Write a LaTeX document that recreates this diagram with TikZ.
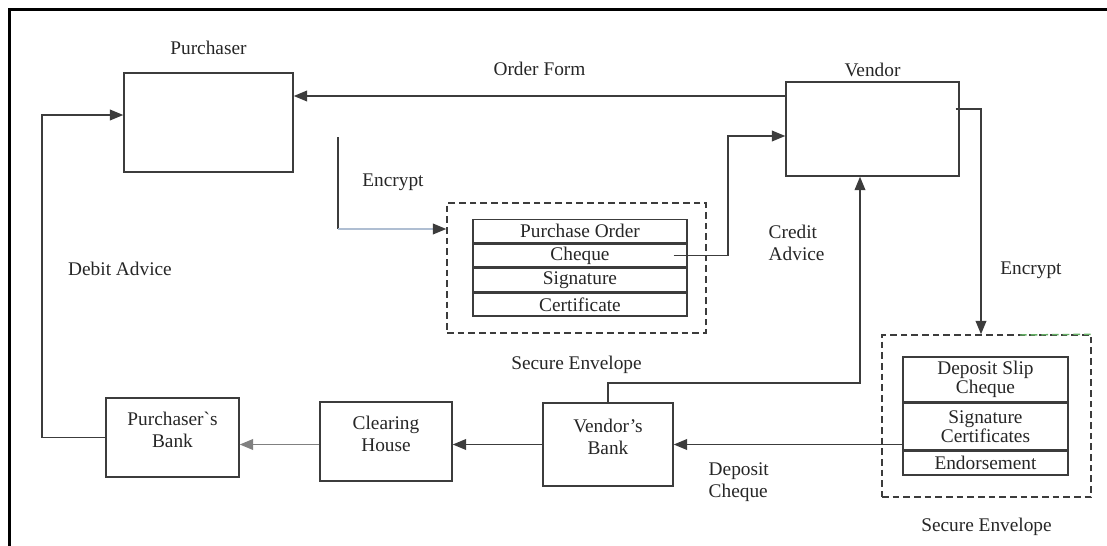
\documentclass[tikz,border=0pt]{standalone}
\usepackage{fontspec}
\setmainfont{Liberation Serif}
\usetikzlibrary{positioning,arrows.meta}
\definecolor{ScanInk}{RGB}{60,60,60}
\definecolor{ScanFaint}{RGB}{175,190,210}
\definecolor{ScanGreen}{RGB}{100,175,100}

\begin{document}
\begin{tikzpicture}[x=0.75pt,y=-0.75pt,>={Triangle[length=10pt,width=8pt]},
  every node/.style={font=\fontsize{14.5}{16.5}\selectfont,text=black!85},
  box/.style={draw=ScanInk,line width=1.1pt,align=center,inner sep=0pt},
  boxtxt/.style={label={[yshift=6pt,align=center]center:#1}},
  row/.style={draw=ScanInk,line width=1.1pt,inner sep=0pt,minimum width=160.5pt,minimum height=17.25pt},
  wrow/.style={draw=ScanInk,line width=1.1pt,inner sep=0pt,minimum width=123.75pt,align=center,font=\fontsize{14.5}{13}\selectfont},
  env/.style={draw=ScanInk,line width=1.1pt,dash pattern=on 5pt off 3pt,inner sep=0pt},
  flow/.style={ScanInk,line width=1.1pt}]
\useasboundingbox (0,0) rectangle (1107,546);
\draw[line width=2.25pt] (9,546) -- (9,9) -- (1107,9);
% parties
\node[box,minimum width=126.75pt,minimum height=74.25pt] (purchaser) at (208.5,122.5) {};
\node[above=10pt of purchaser] (purchaserlbl) {Purchaser};
\node[box,minimum width=129.75pt,minimum height=70.5pt] (vendor) at (872.5,129) {};
\node[above=0pt of vendor] (vendorlbl) {Vendor};
% banks
\node[box,minimum width=99.75pt,minimum height=59.25pt,boxtxt={Purchaser\textasciigrave s\\Bank}] (pbank) at (172.5,437.5) {};
\node[box,minimum width=99pt,minimum height=59.25pt,boxtxt={Clearing\\House}] (chouse) at (386,441.5) {};
\node[box,minimum width=97.5pt,minimum height=62.25pt,boxtxt={Vendor's\\Bank}] (vbank) at (608,444.5) {};
% secure envelope of the purchaser
\node[env,minimum width=194.25pt,minimum height=97.5pt] (env1) at (576.5,268) {};
\node[row] (po) at (580,231) {Purchase Order};
\node[row,below=0pt of po] (cheque) {Cheque};
\node[row,below=0pt of cheque] (sig) {Signature};
\node[row,below=0pt of sig] (cert) {Certificate};
\node[below=13pt of env1] (env1lbl) {Secure Envelope};
% secure envelope of the vendor
\node[env,minimum width=156.75pt,minimum height=121.5pt] (env2) at (986.5,416) {};
\draw[ScanGreen,line width=1.1pt,dash pattern=on 5pt off 3pt] (1020,335) -- (env2.north east);
\node[wrow,minimum height=33.75pt] (slip) at (985.5,379.5) {Deposit Slip\\Cheque};
\node[wrow,minimum height=34.5pt,below=0pt of slip] (sigcert) {Signature\\Certificates};
\node[wrow,minimum height=18pt,below=0pt of sigcert] (endorse) {Endorsement};
\node[below=12pt of env2] (env2lbl) {Secure Envelope};
% flows
\coordinate (ofy) at (540,96);
\draw[->,flow] (vendor.west |- ofy) -- (purchaser.east |- ofy) node[midway,above=11pt] (oflbl) {Order Form};
\coordinate (etop) at (338,137);\coordinate (ebot) at (338,229);
\draw[flow] (etop) -- (ebot);
\draw[-{Triangle[length=10pt,width=8pt,color=ScanInk]},ScanFaint,line width=1.1pt] (ebot) -- (env1.west |- ebot);
\node (enclbl) at (393,182) {Encrypt};
\coordinate (cturn) at (728,136);
\draw[->,flow] ([xshift=-10.5pt]cheque.east) -| (cturn) -- (vendor.west |- cturn);
\node[align=left,anchor=west] (credlbl) at (764,243) {Credit\\Advice};
\coordinate (aturn) at (860,383);
\draw[->,flow] (vbank.north) |- (aturn) -- (aturn |- vendor.south);
\coordinate (vout) at (981,109);
\draw[->,flow] ([xshift=-3pt]vendor.east |- vout) -- (vout) -- (vout |- env2.north);
\node (enc2lbl) at (1031,270) {Encrypt};
\draw[->,flow] (sigcert.west |- vbank.east) -- (vbank.east);
\node[align=left,anchor=west] (deplbl) at (704,482) {Deposit\\Cheque};
\draw[->,flow] (vbank.west) -- (chouse.east |- vbank.west);
\draw[->,flow,gray] (chouse.west |- vbank.west) -- (pbank.east |- vbank.west);
\coordinate (dturn) at (42,115);
\draw[->,flow] (pbank.west) -| (dturn) -- (purchaser.west |- dturn);
\node (deblbl) at (120,269) {Debit Advice};
\end{tikzpicture}
\end{document}
